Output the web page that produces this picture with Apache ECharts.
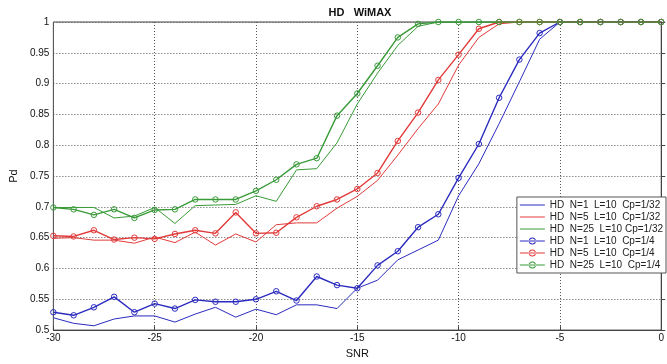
<!DOCTYPE html>
<html><head><meta charset="utf-8">
<script src="https://cdn.jsdelivr.net/npm/echarts@6/dist/echarts.min.js"></script>
<style>html,body{margin:0;padding:0;background:#fff}#c{width:667px;height:364px}</style>
</head><body><div id="c"></div>
<script>
const snr = [-30,-29,-28,-27,-26,-25,-24,-23,-22,-21,-20,-19,-18,-17,-16,-15,-14,-13,-12,-11,-10,-9,-8,-7,-6,-5,-4,-3,-2,-1,0];
const n1cp32 = [0.520,0.511,0.507,0.518,0.523,0.523,0.513,0.526,0.537,0.521,0.534,0.525,0.541,0.541,0.535,0.568,0.581,0.614,0.630,0.646,0.718,0.770,0.835,0.903,0.972,1,1,1,1,1,1];
const n5cp32 = [0.649,0.650,0.646,0.646,0.641,0.651,0.642,0.659,0.638,0.656,0.643,0.671,0.674,0.674,0.698,0.717,0.743,0.784,0.827,0.867,0.930,0.975,0.997,1,1,1,1,1,1,1,1];
const n25cp32 = [0.699,0.699,0.699,0.682,0.685,0.699,0.673,0.702,0.703,0.704,0.718,0.709,0.760,0.762,0.804,0.867,0.917,0.962,0.993,1,1,1,1,1,1,1,1,1,1,1,1];
const n1cp4 = [0.529,0.524,0.537,0.554,0.529,0.543,0.535,0.549,0.546,0.546,0.550,0.563,0.548,0.587,0.573,0.568,0.605,0.628,0.667,0.688,0.747,0.802,0.877,0.939,0.982,1,1,1,1,1,1];
const n5cp4 = [0.653,0.652,0.662,0.647,0.650,0.648,0.656,0.662,0.657,0.691,0.657,0.658,0.683,0.701,0.712,0.729,0.755,0.807,0.853,0.906,0.947,0.989,1,1,1,1,1,1,1,1,1];
const n25cp4 = [0.699,0.696,0.687,0.696,0.682,0.695,0.696,0.712,0.712,0.712,0.726,0.744,0.769,0.779,0.848,0.884,0.929,0.975,0.997,1,1,1,1,1,1,1,1,1,1,1,1];
const names = ['HD  N=1  L=10  Cp=1/32','HD  N=5  L=10  Cp=1/32','HD  N=25  L=10 Cp=1/32','HD  N=1  L=10  Cp=1/4','HD  N=5  L=10  Cp=1/4','HD  N=25  L=10  Cp=1/4'];

const BLUE='#2b2bbf', RED='#e23a3a', GREEN='#389a38';
const colors = [BLUE, RED, GREEN, BLUE, RED, GREEN];
const LINE_ICON = 'path://M0,3.5H25V4.5H0Z';
const MARK_ICON = 'path://M0,3.5H25V4.5H0Z M16,4A3.5,3.5,0,1,0,9,4A3.5,3.5,0,1,0,16,4Z M15,4A2.5,2.5,0,1,1,10,4A2.5,2.5,0,1,1,15,4Z';
function pair(arr){ return snr.map((s,i)=>[s,arr[i]]); }
function thin(name, arr, c){
  return {name, type:'line', data:pair(arr), symbol:'none', lineStyle:{color:c,width:1}, itemStyle:{color:c}, animation:false, z:2};
}
function mark(name, arr, c){
  return {name, type:'line', data:pair(arr), symbol:'circle', symbolSize:5.5,
    lineStyle:{color:c,width:1.4}, itemStyle:{color:'rgba(255,255,255,0)', borderColor:c, borderWidth:1}, animation:false, z:3};
}
const chart = echarts.init(document.getElementById('c'));
chart.setOption({
  backgroundColor:'#fff',
  title:{text:'HD   WiMAX', left:355, textAlign:'center', top:2, textStyle:{fontFamily:'Liberation Sans', fontSize:11, fontWeight:'bold', color:'#111'}},
  grid:{left:44, right:2, top:22, bottom:24, show:true, borderColor:'#444', borderWidth:1},
  legend:{orient:'vertical', right:1, top:197, itemWidth:25, itemHeight:8, itemGap:0,
    backgroundColor:'#fff', borderColor:'#555', borderWidth:1, padding:[2,3,2,3],
    textStyle:{fontFamily:'Liberation Sans', fontSize:10, lineHeight:12, color:'#222'},
    data:names.map((n,i)=>({name:n, icon: i<3?LINE_ICON:MARK_ICON, symbolKeepAspect:true, itemStyle:{color:colors[i], borderWidth:0}}))},
  xAxis:{type:'value', min:-30, max:0, interval:5, name:'SNR', nameLocation:'middle', nameGap:17,
    nameTextStyle:{fontFamily:'Liberation Sans', fontSize:11, color:'#111'},
    axisLine:{show:true, onZero:false, lineStyle:{color:'#444'}}, axisTick:{inside:true, length:4, lineStyle:{color:'#444'}},
    axisLabel:{margin:3, fontFamily:'Liberation Sans', fontSize:10, color:'#111', formatter:v=>String(v)},
    splitLine:{show:true, lineStyle:{type:[1,2], color:'#555', width:1}}},
  yAxis:{type:'value', min:0.5, max:1, interval:0.05, name:'Pd', nameLocation:'middle', nameGap:30,
    nameTextStyle:{fontFamily:'Liberation Sans', fontSize:11, color:'#111'},
    axisLine:{show:true, lineStyle:{color:'#444'}}, axisTick:{inside:true, length:4, lineStyle:{color:'#444'}},
    axisLabel:{margin:4, fontFamily:'Liberation Sans', fontSize:10, color:'#111', formatter:v=>String(+v.toFixed(2))},
    splitLine:{show:true, lineStyle:{type:[1,2], color:'#555', width:1}}},
  series:[
    thin(names[0], n1cp32, BLUE),
    thin(names[1], n5cp32, RED),
    thin(names[2], n25cp32, GREEN),
    mark(names[3], n1cp4, BLUE),
    mark(names[4], n5cp4, RED),
    mark(names[5], n25cp4, GREEN)
  ]
});
</script></body></html>
